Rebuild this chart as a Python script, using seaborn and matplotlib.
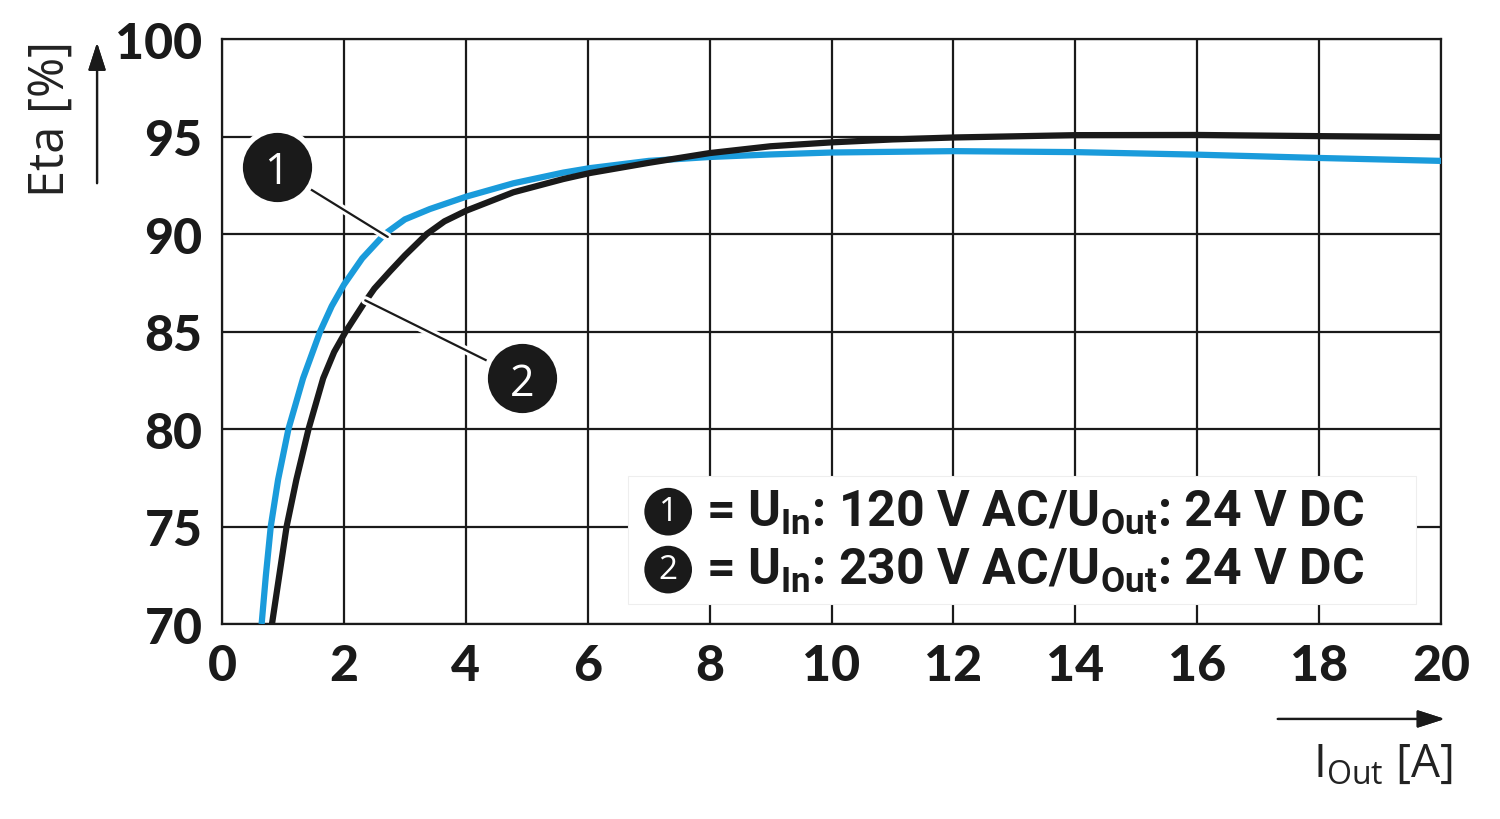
import matplotlib
matplotlib.use("Agg")
import matplotlib.patheffects as pe
import matplotlib.pyplot as plt
import pandas as pd
import seaborn as sns

# efficiency curves
CURRENT_120 = [0.65, 0.72, 0.80, 0.92, 1.09, 1.33, 1.61, 1.80, 2.00, 2.30, 2.67, 3.00,
               3.41, 4.01, 4.78, 5.60, 6.04, 7.0, 8.0, 9.0, 10.0, 12.0, 14.0, 16.0,
               18.0, 20.0]
ETA_120 = [70.0, 72.5, 75.0, 77.4, 80.0, 82.6, 85.0, 86.3, 87.4, 88.75, 90.0, 90.75,
           91.28, 91.92, 92.6, 93.15, 93.38, 93.75, 93.95, 94.08, 94.18, 94.25, 94.2,
           94.07, 93.9, 93.75]
CURRENT_230 = [0.82, 0.94, 1.06, 1.22, 1.42, 1.66, 1.84, 2.03, 2.32, 2.50, 2.76, 3.00,
               3.36, 3.65, 4.01, 4.78, 5.60, 6.04, 7.0, 8.0, 9.0, 10.0, 11.0, 12.0,
               14.0, 16.0, 18.0, 20.0]
ETA_230 = [70.0, 72.5, 75.0, 77.4, 80.0, 82.6, 83.95, 85.0, 86.4, 87.2, 88.1, 88.9,
           90.0, 90.65, 91.2, 92.14, 92.82, 93.13, 93.65, 94.15, 94.5, 94.7, 94.85,
           94.95, 95.07, 95.08, 95.02, 94.97]

SERIES = ["1", "2"]
COLORS = ["#1a9bdb", "#1a1a1a"]
X_TICKS = list(range(0, 21, 2))
Y_TICKS = list(range(70, 101, 5))
LEGEND_ROWS = [
    r"= U$_{\mathbf{In}}$: 120 V AC/U$_{\mathbf{Out}}$: 24 V DC",
    r"= U$_{\mathbf{In}}$: 230 V AC/U$_{\mathbf{Out}}$: 24 V DC",
]

sns.set_theme(style="white")
plt.rcParams["font.family"] = ["Open Sans", "DejaVu Sans"]
plt.rcParams["mathtext.fontset"] = "custom"
plt.rcParams["mathtext.rm"] = "Open Sans"
plt.rcParams["mathtext.bf"] = "Roboto:bold"

data = pd.concat([
    pd.DataFrame({"current": CURRENT_120, "eta": ETA_120, "curve": SERIES[0]}),
    pd.DataFrame({"current": CURRENT_230, "eta": ETA_230, "curve": SERIES[1]}),
])

fig = plt.figure(figsize=(15, 8.2), dpi=100)
ax = fig.add_axes([0.148, 0.2378, 0.8127, 0.7134])

sns.lineplot(data=data, x="current", y="eta", hue="curve", palette=COLORS,
             linewidth=4.5, legend=False, ax=ax, zorder=4, sort=False)
for line in ax.lines:
    line.set_solid_joinstyle("round")
    line.set_solid_capstyle("butt")

ax.set_xlim(0, 20)
ax.set_ylim(70, 100)
ax.set_xticks(X_TICKS)
ax.set_yticks(Y_TICKS)
ax.grid(True, color="#1a1a1a", linewidth=1.6)
ax.set_axisbelow(True)
for spine in ax.spines.values():
    spine.set_color("#1a1a1a")
    spine.set_linewidth(1.6)
ax.tick_params(length=0, pad=14, colors="#1a1a1a")
for lbl in ax.get_xticklabels() + ax.get_yticklabels():
    lbl.set_fontfamily(["Lato", "DejaVu Sans"])
    lbl.set_fontweight("black")
    lbl.set_fontsize(36)
ax.set_xlabel("")
ax.set_ylabel("")

# axis titles with arrows
fig.text(0.034, 0.855, "Eta [%]", rotation=90, ha="center", va="center",
         fontsize=35, color="#222222")
fig.text(0.922, 0.068, r"I$_{\mathrm{Out}}$ [A]", ha="center", va="center",
         fontsize=33, color="#222222")
arrow = dict(arrowstyle="-|>,head_length=1.4,head_width=0.45", color="#1a1a1a", lw=1.6)
fig.add_artist(plt.annotate("", xy=(0.0647, 0.950), xytext=(0.0647, 0.772),
                            xycoords="figure fraction", arrowprops=arrow))
fig.add_artist(plt.annotate("", xy=(0.965, 0.122), xytext=(0.85, 0.122),
                            xycoords="figure fraction", arrowprops=arrow))

# callouts
halo = [pe.Stroke(linewidth=6, foreground="white"), pe.Normal()]
ax.plot([1.45, 2.72], [92.3, 89.85], color="#1a1a1a", lw=1.6, zorder=5, path_effects=halo)
ax.plot([4.35, 2.35], [83.5, 86.6], color="#1a1a1a", lw=1.6, zorder=5, path_effects=halo)
for (cx, cy), num in zip([(0.90, 93.45), (4.92, 82.6)], SERIES):
    ax.scatter([cx], [cy], s=2900, color="#1a1a1a", edgecolor="white", linewidth=4,
               zorder=6)
    ax.text(cx, cy, num, color="white", fontsize=31, ha="center", va="center_baseline",
            zorder=7)

# legend box
ax.add_patch(plt.Rectangle((0.333, 0.034), 0.6465, 0.219, transform=ax.transAxes,
                           facecolor="white", edgecolor="#eeeeee", lw=0.8, zorder=3))
for row, (num, text) in enumerate(zip(SERIES, LEGEND_ROWS)):
    ty = 0.192 - row * 0.099
    ax.text(0.366, ty, num, transform=ax.transAxes, color="white", fontsize=24,
            ha="center", va="center",
            bbox=dict(boxstyle="circle,pad=0.22", fc="#1a1a1a", ec="none"), zorder=6)
    ax.text(0.397, ty, text, transform=ax.transAxes, color="#1a1a1a", fontsize=36,
            fontfamily=["Roboto", "DejaVu Sans"], fontweight="bold",
            ha="left", va="center", zorder=6)

fig.savefig("out.png", dpi=100)
